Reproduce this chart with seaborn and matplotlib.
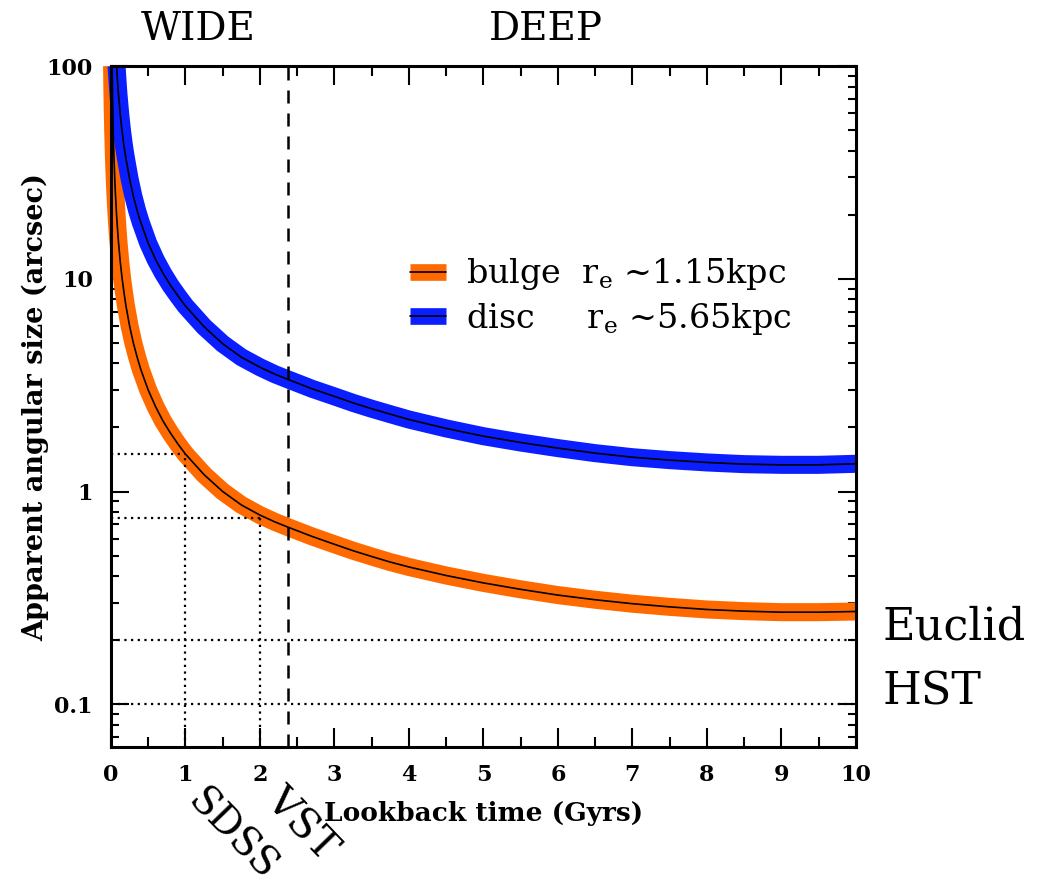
import numpy as np
import pandas as pd
import matplotlib
matplotlib.use("Agg")
import matplotlib.pyplot as plt
import seaborn as sns
from matplotlib.lines import Line2D
from matplotlib.legend_handler import HandlerTuple
from matplotlib.ticker import LogLocator, FixedLocator, FuncFormatter, MultipleLocator, NullFormatter

# ---------------- data ----------------
t_bulge = [0.015, 0.02, 0.025, 0.03, 0.04, 0.05, 0.06, 0.075, 0.09, 0.1, 0.125,
           0.15, 0.175, 0.2, 0.25, 0.3, 0.35, 0.4, 0.5, 0.6, 0.7, 0.8, 0.9,
           1.0, 1.25, 1.5, 1.75, 2.0, 2.2, 2.4, 2.7, 3.0,
           3.25, 3.5, 3.75, 4.0, 4.5, 5.0, 5.5, 6.0, 6.5, 7.0, 7.5, 8.0, 8.5,
           9.0, 9.5, 10.0]
size_bulge = [100, 75, 60, 50, 37.5, 30, 25, 20, 16.7, 15, 12,
              10, 8.6, 7.5, 6.0, 5.0, 4.3, 3.75, 3.0, 2.5, 2.14, 1.88, 1.67,
              1.5, 1.2, 1.0, 0.865, 0.775, 0.72, 0.675, 0.615, 0.565,
              0.527, 0.495, 0.466, 0.442, 0.403, 0.372, 0.347, 0.326,
              0.310, 0.297, 0.287, 0.279, 0.274, 0.271, 0.271, 0.273]

t_disc = [0.075, 0.09, 0.1, 0.125, 0.15, 0.175, 0.2, 0.25, 0.3, 0.35, 0.4, 0.5,
          0.6, 0.7, 0.8, 0.9, 1.0, 1.25, 1.5, 1.75, 2.0,
          2.2, 2.4, 2.7, 3.0, 3.25, 3.5, 3.75, 4.0, 4.5, 5.0, 5.5, 6.0, 6.5,
          7.0, 7.5, 8.0, 8.5, 9.0, 9.5, 10.0]
size_disc = [100, 83, 74, 59, 49, 42, 37, 29.5, 24.5, 21, 18.4, 14.7,
             12.3, 10.6, 9.3, 8.3, 7.45, 5.95, 4.95, 4.28, 3.84,
             3.56, 3.34, 3.04, 2.80, 2.61, 2.45, 2.31, 2.18, 1.98, 1.82, 1.70,
             1.60, 1.515, 1.45, 1.405, 1.37, 1.345, 1.335, 1.335, 1.35]

survey_names = ["SDSS", "VST"]
survey_t = [1.0, 2.0]            # dotted verticals
survey_res = [1.5, 0.75]         # dotted horizontals
wide_deep_t = 2.38               # dashed separator
instr_names = ["Euclid", "HST"]
instr_res = [0.2, 0.1]

legend_labels = [r"bulge  r$_{\rm e}$ ~1.15kpc", r"disc     r$_{\rm e}$ ~5.65kpc"]
ytick_vals = [0.1, 1, 10, 100]
ytick_labels = ["0.1", "1", "10", "100"]

orange = "#FF6A00"
blue = "#0A1EFF"

# ---------------- style ----------------
sns.set_style("white")
plt.rcParams["font.family"] = ["DejaVu Serif"]
plt.rcParams["mathtext.fontset"] = "dejavuserif"
for k in ["text.color", "axes.labelcolor", "xtick.color", "ytick.color"]:
    plt.rcParams[k] = "black"

fig = plt.figure(figsize=(10.39, 8.90), dpi=100)
ax = fig.add_axes([0.1068, 0.1607, 0.7170, 0.7651])

df_b = pd.DataFrame({"t": t_bulge, "s": size_bulge})
df_d = pd.DataFrame({"t": t_disc, "s": size_disc})

# thick coloured bands
sns.lineplot(data=df_b, x="t", y="s", color=orange, linewidth=13, sort=False,
             estimator=None, ax=ax)
sns.lineplot(data=df_d, x="t", y="s", color=blue, linewidth=13, sort=False,
             estimator=None, ax=ax)
for ln in ax.lines:
    ln.set_clip_on(False)
    ln.set_solid_capstyle("butt")
    ln.set_solid_joinstyle("round")
# thin black centre lines
sns.lineplot(data=df_b, x="t", y="s", color="black", linewidth=1.2, sort=False,
             estimator=None, ax=ax)
sns.lineplot(data=df_d, x="t", y="s", color="black", linewidth=1.2, sort=False,
             estimator=None, ax=ax)

ax.set_yscale("log")
ymin = 0.063
ax.set_xlim(0, 10)
ax.set_ylim(ymin, 100)

dot = (0, (1, 2))
for st, sr in zip(survey_t, survey_res):
    ax.hlines(sr, 0, st, colors="black", linestyles=dot, linewidth=1.6)
    ax.vlines(st, ymin, sr, colors="black", linestyles=dot, linewidth=1.6)
for ir in instr_res:
    ax.hlines(ir, 0, 10, colors="black", linestyles=dot, linewidth=1.6)
ax.axvline(wide_deep_t, color="black", linestyle=(0, (5.2, 4)), linewidth=1.8)

# ---------------- axes ----------------
for sp in ax.spines.values():
    sp.set_linewidth(2.2)
    sp.set_color("black")

ax.xaxis.set_major_locator(MultipleLocator(1))
ax.xaxis.set_minor_locator(MultipleLocator(0.5))
ax.yaxis.set_major_locator(FixedLocator(ytick_vals))
ax.yaxis.set_major_formatter(FuncFormatter(
    lambda v, p: ytick_labels[ytick_vals.index(v)] if v in ytick_vals else ""))
ax.yaxis.set_minor_locator(LogLocator(base=10, subs=np.arange(2, 10)))
ax.yaxis.set_minor_formatter(NullFormatter())

ax.tick_params(axis="x", which="major", direction="in", length=14, width=1.5,
               top=True, bottom=True, pad=12, labelsize=16, colors="black")
ax.tick_params(axis="x", which="minor", direction="in", length=7, width=1.5,
               top=True, bottom=True)
ax.tick_params(axis="y", which="major", direction="in", length=13, width=1.5,
               left=True, right=True, pad=13, labelsize=16, colors="black")
ax.tick_params(axis="y", which="minor", direction="in", length=6, width=1.5,
               left=True, right=True)
for lab in ax.get_xticklabels() + ax.get_yticklabels():
    lab.set_fontweight("bold")

ax.set_xlabel("Lookback time (Gyrs)", fontsize=19, fontweight="bold",
              labelpad=11, color="black")
ax.set_ylabel("Apparent angular size (arcsec)", fontsize=19.5, fontweight="bold",
              labelpad=-2, color="black")

# ---------------- annotations ----------------
ax.text(1.17, 1.053, "WIDE", transform=ax.get_xaxis_transform(), fontsize=28,
        ha="center", va="center", color="black")
ax.text(5.84, 1.053, "DEEP", transform=ax.get_xaxis_transform(), fontsize=28,
        ha="center", va="center", color="black")

inst_y = [0.23, 0.114]
for name, yy in zip(instr_names, inst_y):
    ax.text(1.036, yy, name, transform=ax.get_yaxis_transform(), fontsize=32,
            ha="left", va="center", clip_on=False, color="black")

lab_pos = [(0.163, -0.129), (0.256, -0.114)]
lab_size = [28, 29.5]
for name, (xx, yy), fs in zip(survey_names, lab_pos, lab_size):
    ax.text(xx, yy, name, transform=ax.transAxes, fontsize=fs, rotation=-46,
            rotation_mode="anchor", ha="center", va="center", clip_on=False,
            color="black")

# ---------------- legend ----------------
handles = [
    (Line2D([], [], color=orange, lw=12, solid_capstyle="butt"),
     Line2D([], [], color="black", lw=1.2)),
    (Line2D([], [], color=blue, lw=12, solid_capstyle="butt"),
     Line2D([], [], color="black", lw=1.2)),
]
ax.legend(handles, legend_labels, handler_map={tuple: HandlerTuple(ndivide=1)},
          loc="upper left", bbox_to_anchor=(0.401, 0.7205), frameon=False,
          borderpad=0, borderaxespad=0, handlelength=1.1, handletextpad=0.6,
          labelspacing=0.25, prop={"family": "DejaVu Serif", "size": 24})

fig.savefig("out.png", dpi=100, facecolor="white")
